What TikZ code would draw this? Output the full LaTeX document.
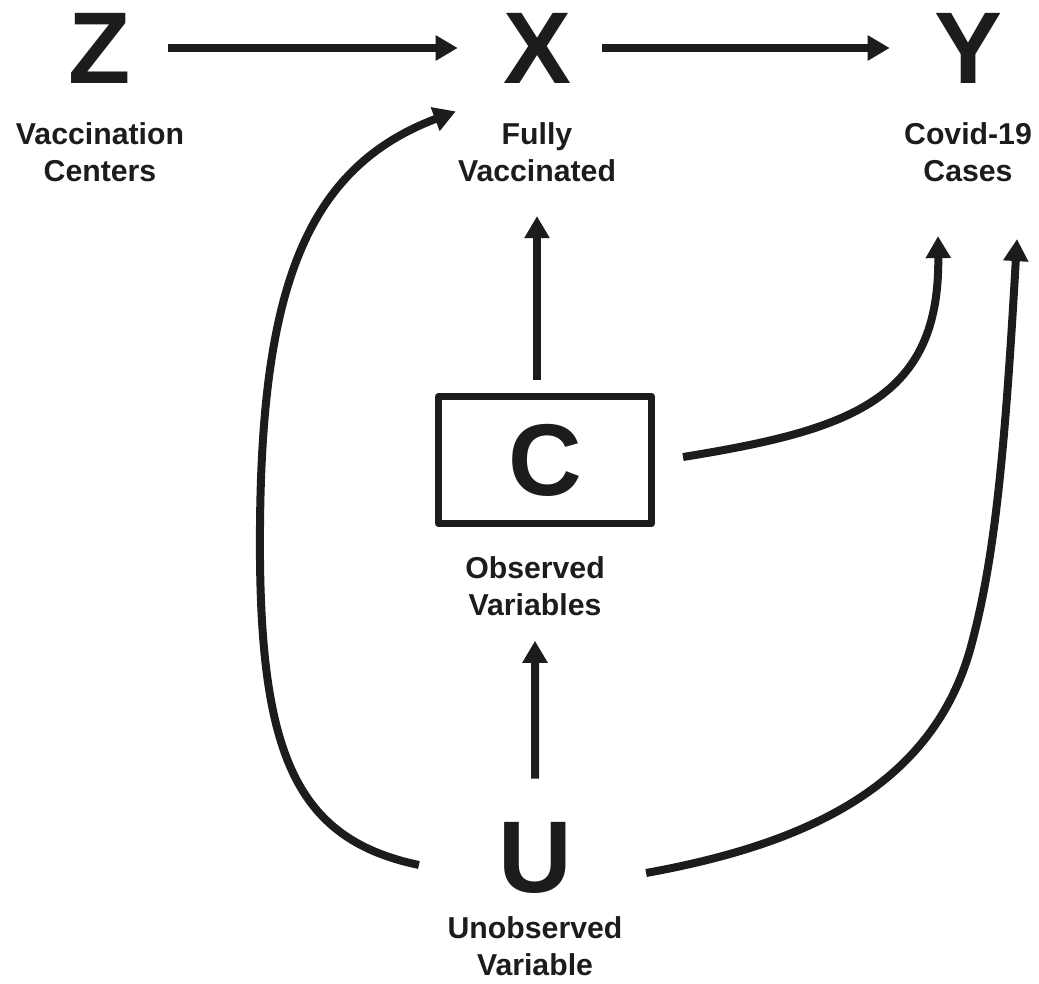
\documentclass[tikz,border=0pt]{standalone}
\usepackage{fontspec}
\setmainfont{Liberation Sans}
\usepackage{xcolor}
\definecolor{InkBlack}{RGB}{28,28,28}
\usepackage{tikz}
\usetikzlibrary{
    arrows.meta,
    positioning,
    calc
}

\begin{document}
\begin{tikzpicture}[
    x=0.025cm,
    y=-0.025cm,
    node distance=1cm,
%
    letter/.style={
        inner sep=0pt,
        font=\fontsize{72.5}{80}\selectfont\bfseries,
        text=InkBlack
    },
%
    varlabel/.style={
        inner sep=0pt,
        align=center,
        font=\fontsize{21.5}{26.3}\selectfont\bfseries,
        text=InkBlack
    },
%
    observed/.style={
        letter,
        draw=InkBlack,
        line width=1.75mm,
        line join=round,
        minimum width=5.325cm,
        minimum height=3.175cm
    },
%
    arrow/.style={
        -{Triangle[length=5.5mm,width=6mm]},
        line width=2mm,
        draw=InkBlack
    }
]
\useasboundingbox (0,0) rectangle (1039,984);
%
% Top row
%
\node[letter] (zee) at (100,48) {Z};
\node[letter] (ex) at (537,48) {X};
\node[letter] (wye) at (968,48) {Y};
%
\node[
    varlabel,
    below=0.975cm of zee
] (zlab) {
    Vaccination\\
    Centers
};
%
\node[
    varlabel,
    below=0.975cm of ex
] (xlab) {
    Fully\\
    Vaccinated
};
%
\node[
    varlabel,
    below=0.975cm of wye
] (ylab) {
    Covid-19\\
    Cases
};
%
\draw[arrow, shorten <=9.25mm, shorten >=11.25mm] (zee) -- (ex);
\draw[arrow, shorten <=7.75mm, shorten >=11mm] (ex) -- (wye);
%
% Observed variables
%
\node[observed] (cee) at (545,460) {C};
%
\node[
    varlabel,
    below=0.725cm of cee,
    xshift=-0.25cm
] (clab) {
    Observed\\
    Variables
};
%
\draw[arrow, shorten <=3.25mm, shorten >=8.5mm]
    (cee.north -| xlab.south) -- (xlab.south);
%
% Unobserved variable
%
\node[letter] (you) at (535,858) {U};
%
\node[
    varlabel,
    below=0.55cm of you
] (ulab) {
    Unobserved\\
    Variable
};
%
\draw[arrow, shorten <=10.9mm, shorten >=6.25mm] (you.north) -- (clab.south);
%
% Curved paths
%
\draw[arrow]
    ($(you.west)+(-79,7)$)
    .. controls (300,840) and (262,760) ..
    (260,560)
    .. controls (258,300) and (300,170) ..
    ($(ex.south west)+(-47,28)$);
%
\draw[arrow]
    ($(cee.east)+(28,-3)$)
    .. controls (850,430) and (940,400) ..
    ($(ylab.south)+(-30,54)$);
%
\draw[arrow]
    ($(you.east)+(74,15)$)
    .. controls (800,845) and (930,790) ..
    (970,650)
    .. controls (995,560) and (1005,450) ..
    ($(ylab.south)+(49,57)$);
%
\end{tikzpicture}
\end{document}
